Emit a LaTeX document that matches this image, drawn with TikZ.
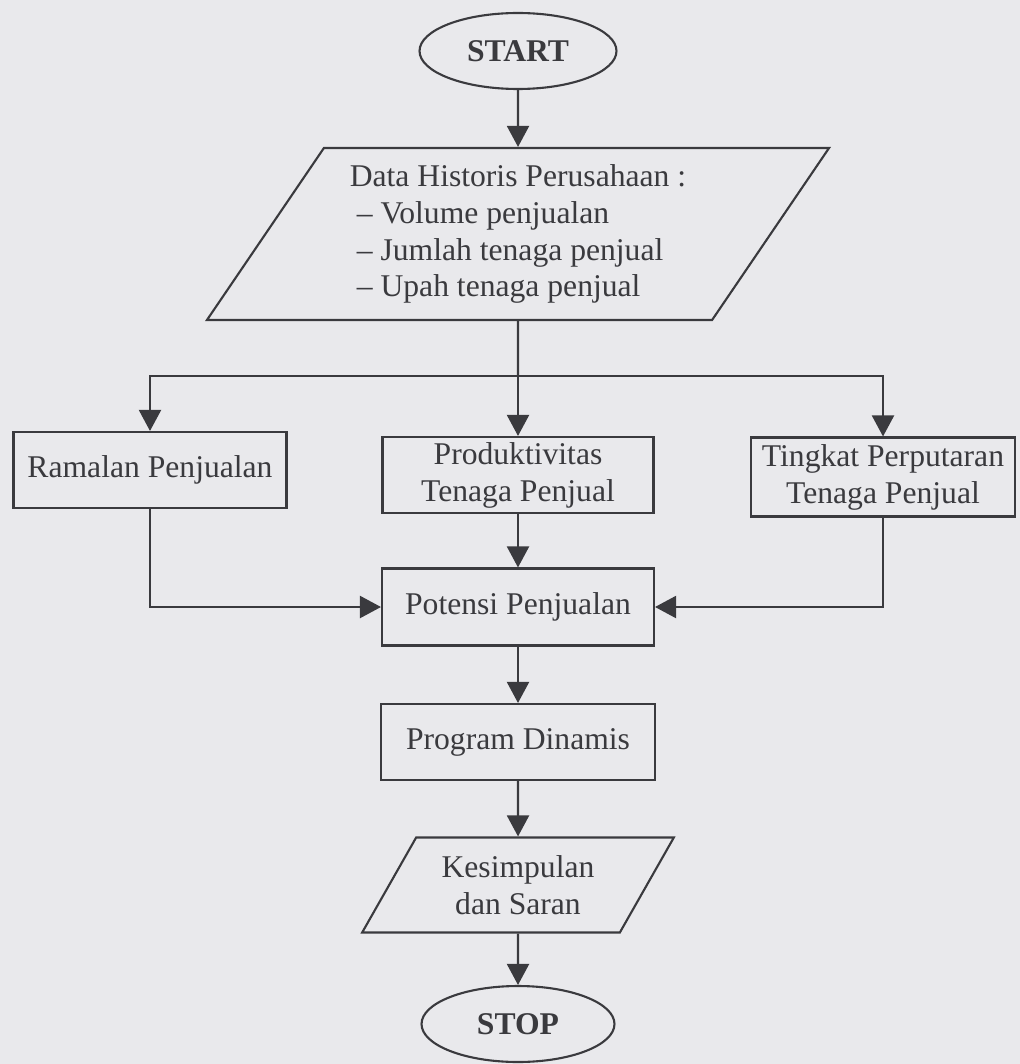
\documentclass[tikz,border=0pt]{standalone}
\usepackage{fontspec}
\setmainfont{Liberation Serif}
\usetikzlibrary{shapes.geometric, arrows.meta}

\definecolor{paper}{RGB}{233,233,236}
\definecolor{ink}{RGB}{58,58,62}

\begin{document}
\begin{tikzpicture}[x=0.02cm, y=-0.02cm,
    font=\fontsize{18}{21}\selectfont, color=ink, line width=1.2pt,
    >={Triangle[length=0.42cm, width=0.44cm]},
    terminal/.style={draw, ellipse, inner sep=0pt, minimum width=3.94cm,
        minimum height=1.52cm, font=\fontsize{18}{21}\selectfont\bfseries},
    process/.style={draw, rectangle, align=center, inner sep=0pt,
        minimum height=1.52cm},
    inout/.style={draw, trapezium, trapezium stretches=true, inner sep=0pt}]
    \fill[paper] (0, 0) rectangle (1020, 1064);
    \useasboundingbox (0, 0) rectangle (1020, 1064);

    \node[terminal] (start) at (518, 51) {START};
    \node[inout, align=left, trapezium left angle=54, trapezium right angle=126,
        minimum width=12.48cm, minimum height=3.44cm] (data) at (518, 234)
        {Data Historis Perusahaan :\\
         \hspace*{4pt}-- Volume penjualan\\
         \hspace*{4pt}-- Jumlah tenaga penjual\\
         \hspace*{4pt}-- Upah tenaga penjual};
    \coordinate (split) at (518, 376);

    \node[process, minimum width=5.46cm] (ramalan) at (150, 470) {Ramalan Penjualan};
    \node[process, minimum width=5.42cm] (produk)  at (518, 475) {Produktivitas\\Tenaga Penjual};
    \node[process, minimum width=5.28cm, minimum height=1.58cm] (tingkat) at (883, 477)
        {Tingkat Perputaran\\Tenaga Penjual};
    \node[process, minimum width=5.44cm, minimum height=1.54cm] (potensi) at (518, 607) {Potensi Penjualan};
    \node[process, minimum width=5.48cm] (program) at (518, 742) {Program Dinamis};
    \node[inout, align=center, trapezium left angle=55.6, trapezium right angle=124.4,
        minimum width=6.24cm, minimum height=1.9cm] (simpul) at (518, 885)
        {Kesimpulan\\dan Saran};
    \node[terminal, minimum width=3.86cm] (stop) at (518, 1024) {STOP};

    \draw[->] (start) -- (data);
    \draw (data) -- (split);
    % three branches from the data block
    \draw[->] (split) -- (produk);
    \draw[->] (split) -| (ramalan);
    \draw[->] (split) -| (tingkat);
    % all of them meet in the sales potential
    \draw[->] (produk) -- (potensi);
    \draw[->] (ramalan) |- (potensi);
    \draw[->] (tingkat) |- (potensi);
    \draw[->] (potensi) -- (program);
    \draw[->] (program) -- (simpul);
    \draw[->] (simpul) -- (stop);
\end{tikzpicture}
\end{document}
